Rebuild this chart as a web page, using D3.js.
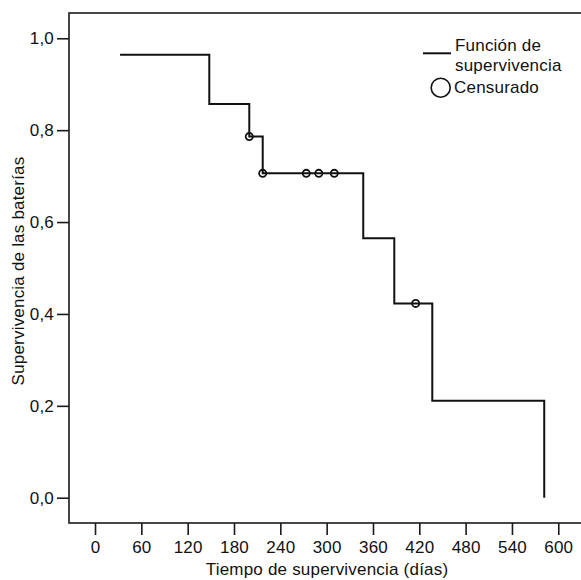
<!DOCTYPE html>
<html>
<head>
<meta charset="utf-8">
<script src="https://cdn.jsdelivr.net/npm/d3@7"></script>
<style>
  body { margin: 0; background: #fff; }
  svg { display: block; font-family: "Liberation Sans", Arial, sans-serif; }
  svg text { letter-spacing: 0.2px; }
</style>
</head>
<body>
<div id="chart"></div>
<script>
// Kaplan-Meier steps: the curve starts at the first time, then drops at each event time.
const stepTimes = [32.4, 148, 199.8, 217.2, 347.4, 387.6, 436.8, 581.8];
const stepSurv  = [0.964, 0.857, 0.786, 0.706, 0.565, 0.423, 0.211, 0.0];
// Censored observations
const censTimes = [199.8, 217.2, 273.6, 289.8, 309.9, 415.3];
const censSurv  = [0.786, 0.706, 0.706, 0.706, 0.706, 0.423];
// Axis ticks
const xTicks = [0, 60, 120, 180, 240, 300, 360, 420, 480, 540, 600];
const yTicks = [0, 0.2, 0.4, 0.6, 0.8, 1.0];

const width = 581, height = 580;
const frame = { left: 69, right: 585, top: 13, bottom: 523 };
const fs = 17;

const x = d3.scaleLinear().domain([-33.7, 634.6]).range([frame.left, frame.right]);
const y = d3.scaleLinear().domain([-0.055, 1.055]).range([frame.bottom, frame.top]);
const fmt = d => d3.format(".1f")(d).replace(".", ",");

const svg = d3.select("#chart").append("svg")
    .attr("width", width)
    .attr("height", height);

// plot frame
svg.append("rect")
    .attr("x", frame.left).attr("y", frame.top)
    .attr("width", frame.right - frame.left)
    .attr("height", frame.bottom - frame.top)
    .attr("fill", "none")
    .attr("stroke", "#1a1a1a")
    .attr("stroke-width", 1.6);

// x axis
const xAxis = svg.append("g")
    .attr("transform", `translate(0,${frame.bottom})`)
    .call(d3.axisBottom(x).tickValues(xTicks).tickSize(12).tickPadding(6).tickFormat(d3.format("d")));
xAxis.select(".domain").remove();
xAxis.selectAll("line").attr("stroke", "#1a1a1a").attr("stroke-width", 1.6);
xAxis.selectAll("text").attr("font-size", fs).attr("fill", "#111")
    .attr("font-family", "Liberation Sans, Arial, sans-serif");

// y axis
const yAxis = svg.append("g")
    .attr("transform", `translate(${frame.left},0)`)
    .call(d3.axisLeft(y).tickValues(yTicks).tickSize(12).tickPadding(3).tickFormat(fmt));
yAxis.select(".domain").remove();
yAxis.selectAll("line").attr("stroke", "#1a1a1a").attr("stroke-width", 1.6);
yAxis.selectAll("text").attr("font-size", fs).attr("fill", "#111")
    .attr("font-family", "Liberation Sans, Arial, sans-serif");

// axis titles
svg.append("text")
    .attr("x", (frame.left + frame.right) / 2)
    .attr("y", 575)
    .attr("text-anchor", "middle")
    .attr("font-size", fs)
    .attr("fill", "#111")
    .text("Tiempo de supervivencia (días)");

svg.append("text")
    .attr("transform", `translate(23.5,271) rotate(-90)`)
    .attr("text-anchor", "middle")
    .attr("font-size", fs)
    .attr("fill", "#111")
    .text("Supervivencia de las baterías");

// survival step curve
const pts = [];
stepTimes.forEach((t, i) => {
  if (i > 0) pts.push([t, stepSurv[i - 1]]);
  pts.push([t, stepSurv[i]]);
});
svg.append("path")
    .datum(pts)
    .attr("fill", "none")
    .attr("stroke", "#111")
    .attr("stroke-width", 2)
    .attr("d", d3.line().x(d => x(d[0])).y(d => y(d[1])));

// censored marks
svg.selectAll("circle.cens")
    .data(censTimes.map((t, i) => [t, censSurv[i]]))
    .enter().append("circle")
    .attr("class", "cens")
    .attr("cx", d => x(d[0]))
    .attr("cy", d => y(d[1]))
    .attr("r", 3.6)
    .attr("fill", "none")
    .attr("stroke", "#111")
    .attr("stroke-width", 1.8);

// legend
const legend = svg.append("g");
legend.append("line")
    .attr("x1", 423).attr("x2", 451)
    .attr("y1", 53.3).attr("y2", 53.3)
    .attr("stroke", "#111").attr("stroke-width", 2);
legend.append("text").attr("x", 455).attr("y", 50.5)
    .attr("font-size", fs).attr("fill", "#111").text("Función de");
legend.append("text").attr("x", 455).attr("y", 70.5)
    .attr("font-size", fs).attr("fill", "#111").text("supervivencia");
legend.append("circle")
    .attr("cx", 440.7).attr("cy", 87.7).attr("r", 9.5)
    .attr("fill", "none").attr("stroke", "#111").attr("stroke-width", 1.6);
legend.append("text").attr("x", 454).attr("y", 92.7)
    .attr("font-size", fs).attr("fill", "#111").text("Censurado");
</script>
</body>
</html>
